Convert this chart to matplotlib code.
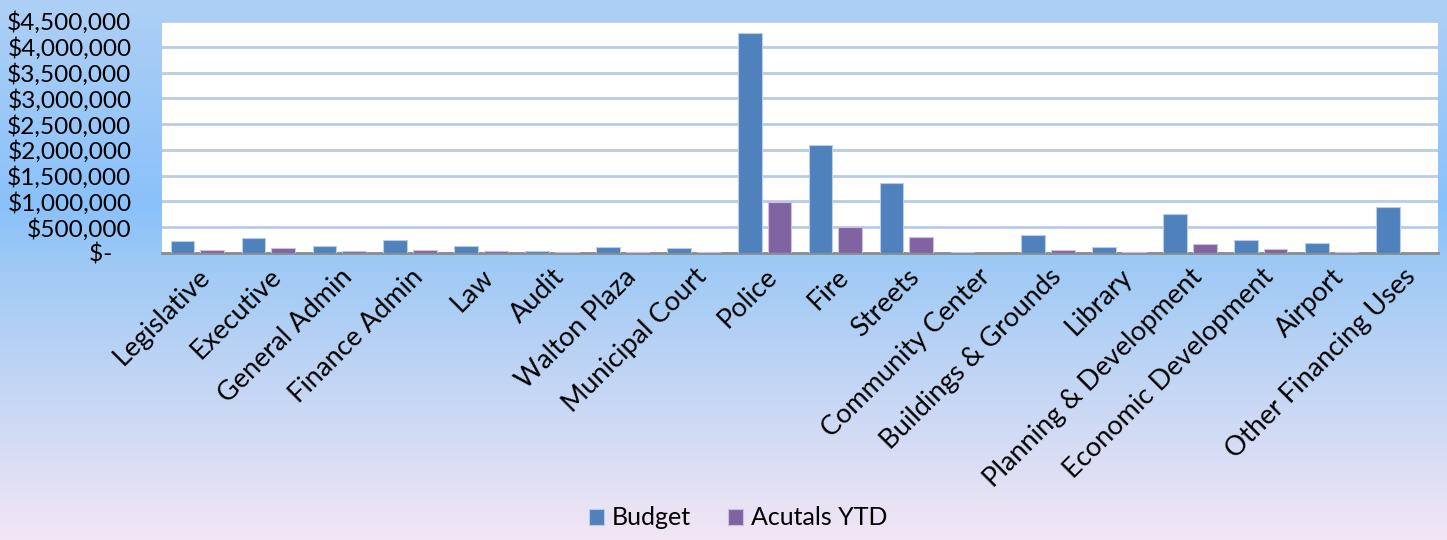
import numpy as np
import matplotlib
matplotlib.use("Agg")
import matplotlib.pyplot as plt
from matplotlib.ticker import FuncFormatter, MultipleLocator

categories = ["Legislative", "Executive", "General Admin", "Finance Admin", "Law", "Audit",
              "Walton Plaza", "Municipal Court", "Police", "Fire", "Streets", "Community Center",
              "Buildings & Grounds", "Library", "Planning & Development", "Economic Development",
              "Airport", "Other Financing Uses"]
budget = [227000, 290000, 130000, 246000, 136000, 30000, 110000, 97000, 4270000, 2087000,
          1364000, 15000, 356000, 116000, 756000, 252000, 201000, 885000]
actuals = [52000, 103000, 33000, 52000, 45000, 25000, 25000, 20000, 982000, 511000,
           304000, 0, 52000, 25000, 174000, 85000, 25000, 0]
series_names = ["Budget", "Acutals YTD"]

plt.rcParams['font.family'] = ['Lato', 'DejaVu Sans']

fig = plt.figure(figsize=(14.47, 5.40), dpi=100)

# background gradient
bg = fig.add_axes([0, 0, 1, 1], zorder=-10)
stops_y = [0.0, 0.38, 0.50, 1.0]
stops_c = [(174, 208, 245), (138, 193, 250), (160, 202, 244), (242, 230, 245)]
ys = np.linspace(0, 1, 540)
grad = np.zeros((540, 1, 3))
for k in range(3):
    grad[:, 0, k] = np.interp(ys, stops_y, [c[k] for c in stops_c]) / 255.0
bg.imshow(grad, aspect='auto', extent=[0, 1, 1, 0])
bg.set_xlim(0, 1); bg.set_ylim(1, 0)
bg.axis('off')

ax = fig.add_axes([162/1447, 1 - 253/540, (1438-162)/1447, (253-21)/540])
ax.set_facecolor('white')

x = np.arange(len(categories))
w = 0.335
ax.bar(x - 0.625*w, budget, width=w, color='#4f81bd', edgecolor='#b9cde5', linewidth=0.8,
       label=series_names[0], zorder=3)
ax.bar(x + 0.625*w, actuals, width=w, color='#8064a2', edgecolor='#ccc1da', linewidth=0.8,
       label=series_names[1], zorder=3)

ax.set_xlim(-0.5, len(categories) - 0.5)
ax.set_ylim(0, 4500000)
ax.yaxis.set_major_locator(MultipleLocator(500000))
ax.yaxis.set_major_formatter(FuncFormatter(lambda v, p: "$-   " if v == 0 else f"${v:,.0f}"))
ax.grid(axis='y', color='#b8cbe8', linewidth=2, zorder=0)
ax.set_axisbelow(True)
for s in ['top', 'right', 'left']:
    ax.spines[s].set_visible(False)
ax.spines['bottom'].set_color('#8c8c8c')
ax.spines['bottom'].set_linewidth(2)
ax.tick_params(axis='y', length=0, labelsize=17.6, pad=22)
ax.tick_params(axis='x', length=0, labelsize=19.5, pad=8)
ax.set_xticks(x)
ax.set_xticklabels(categories, rotation=45, ha='right', rotation_mode='anchor')

leg = fig.legend(loc='lower center', bbox_to_anchor=(0.51, -0.022), ncol=2, frameon=False,
                 fontsize=18, handlelength=0.6, handleheight=0.6, columnspacing=1.5, handletextpad=0.3)

fig.savefig("out.png", dpi=100)
